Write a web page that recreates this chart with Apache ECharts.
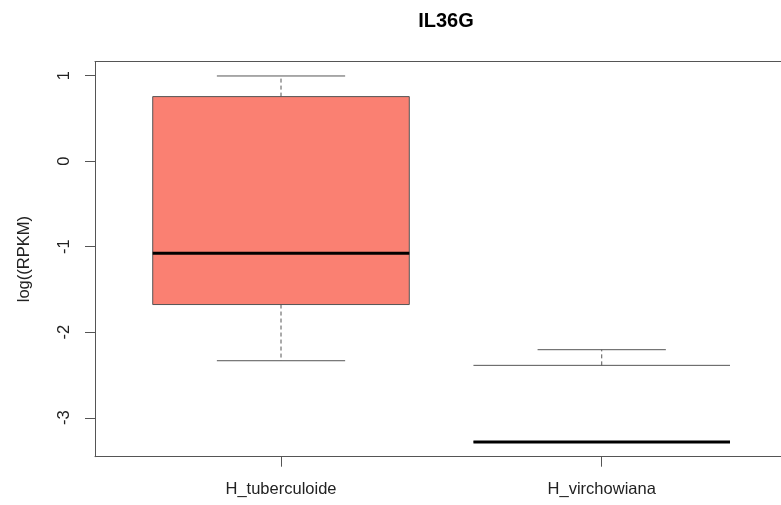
<!DOCTYPE html>
<html>
<head>
<meta charset="utf-8">
<script src="https://cdn.jsdelivr.net/npm/echarts@6/dist/echarts.min.js"></script>
<style>html,body{margin:0;padding:0;background:#fff}#c{width:781px;height:505px}</style>
</head>
<body>
<div id="c"></div>
<script>
var title = 'IL36G';
var yName = 'log((RPKM)';
var categories = ['H_tuberculoide', 'H_virchowiana'];
var whiskerLow = [-2.333, -3.282];
var q1 = [-1.676, -3.282];
var median = [-1.077, -3.282];
var q3 = [0.755, -2.387];
var whiskerHigh = [0.996, -2.204];
var yTicks = [-3, -2, -1, 0, 1];
var boxFill = ['#FA8072', null];

var FONT = '"Liberation Sans", Arial, Helvetica, sans-serif';
var LINE = '#555';
var data = categories.map(function (c, i) {
  return [i + 1, whiskerLow[i], q1[i], median[i], q3[i], whiskerHigh[i], i];
});

function renderItem(params, api) {
  var x = api.value(0);
  var idx = api.value(6);
  var half = 0.4, cap = 0.2;
  function P(xx, yy) { return api.coord([xx, yy]); }
  var lo = api.value(1), a = api.value(2), m = api.value(3), b = api.value(4), hi = api.value(5);
  var children = [];
  var pL = P(x - half, b), pR = P(x + half, a);
  var fill = boxFill[idx];
  if (fill) {
    children.push({ type: 'rect', shape: { x: pL[0], y: pL[1], width: pR[0] - pL[0], height: pR[1] - pL[1] },
      style: { fill: fill, stroke: LINE, lineWidth: 1 } });
  } else {
    children.push({ type: 'line', shape: { x1: pL[0], y1: pL[1], x2: pR[0], y2: pL[1] }, style: { stroke: LINE, lineWidth: 1 } });
    children.push({ type: 'line', shape: { x1: pL[0], y1: pR[1], x2: pR[0], y2: pR[1] }, style: { stroke: LINE, lineWidth: 1 } });
  }
  if (hi > b) {
    var w1 = P(x, b), w2 = P(x, hi);
    children.push({ type: 'line', shape: { x1: w1[0], y1: w1[1], x2: w2[0], y2: w2[1] }, style: { stroke: LINE, lineWidth: 1, lineDash: [4, 3] } });
    var c1 = P(x - cap, hi), c2 = P(x + cap, hi);
    children.push({ type: 'line', shape: { x1: c1[0], y1: c1[1], x2: c2[0], y2: c2[1] }, style: { stroke: LINE, lineWidth: 1 } });
  }
  if (lo < a) {
    var l1 = P(x, a), l2 = P(x, lo);
    children.push({ type: 'line', shape: { x1: l1[0], y1: l1[1], x2: l2[0], y2: l2[1] }, style: { stroke: LINE, lineWidth: 1, lineDash: [4, 3] } });
    var d1 = P(x - cap, lo), d2 = P(x + cap, lo);
    children.push({ type: 'line', shape: { x1: d1[0], y1: d1[1], x2: d2[0], y2: d2[1] }, style: { stroke: LINE, lineWidth: 1 } });
  }
  var m1 = P(x - half, m), m2 = P(x + half, m);
  children.push({ type: 'line', shape: { x1: m1[0], y1: m1[1], x2: m2[0], y2: m2[1] }, style: { stroke: '#000', lineWidth: 3 } });
  return { type: 'group', children: children };
}

var chart = echarts.init(document.getElementById('c'), null, { renderer: 'canvas' });
chart.setOption({
  animation: false,
  backgroundColor: '#fff',
  title: { text: title, left: 441, textAlign: 'center', top: 6,
    textStyle: { fontFamily: FONT, fontSize: 20, fontWeight: 'bold', color: '#000' } },
  grid: { left: 95, top: 61.7, right: 0, height: 395, show: false },
  xAxis: [{
    type: 'value', min: 0.42, max: 2.559, position: 'bottom',
    axisLine: { show: true, onZero: false, lineStyle: { color: LINE, width: 1 } },
    splitLine: { show: false },
    axisTick: { show: true, customValues: [1, 2], length: 10, lineStyle: { color: LINE } },
    axisLabel: { customValues: [1, 2], margin: 24, fontFamily: FONT, fontSize: 16.5, color: '#222',
      formatter: function (v) { return categories[Math.round(v) - 1] || ''; } }
  }, {
    type: 'value', min: 0.42, max: 2.559, position: 'top',
    axisLine: { show: true, onZero: false, lineStyle: { color: LINE, width: 1 } },
    splitLine: { show: false }, axisTick: { show: false }, axisLabel: { show: false }
  }],
  yAxis: {
    type: 'value', min: -3.455, max: 1.163,
    name: yName, nameLocation: 'middle', nameRotate: 90, nameGap: 62,
    nameTextStyle: { fontFamily: FONT, fontSize: 16.5, color: '#222' },
    axisLine: { show: true, onZero: false, lineStyle: { color: LINE, width: 1 } },
    splitLine: { show: false },
    axisTick: { show: true, customValues: yTicks, length: 10, lineStyle: { color: LINE } },
    axisLabel: { customValues: yTicks, rotate: 90, margin: 22, fontFamily: FONT, fontSize: 16.5, color: '#222' }
  },
  series: [{ type: 'custom', renderItem: renderItem, data: data, encode: { x: 0, y: [1, 5] }, clip: false }]
});
</script>
</body>
</html>
